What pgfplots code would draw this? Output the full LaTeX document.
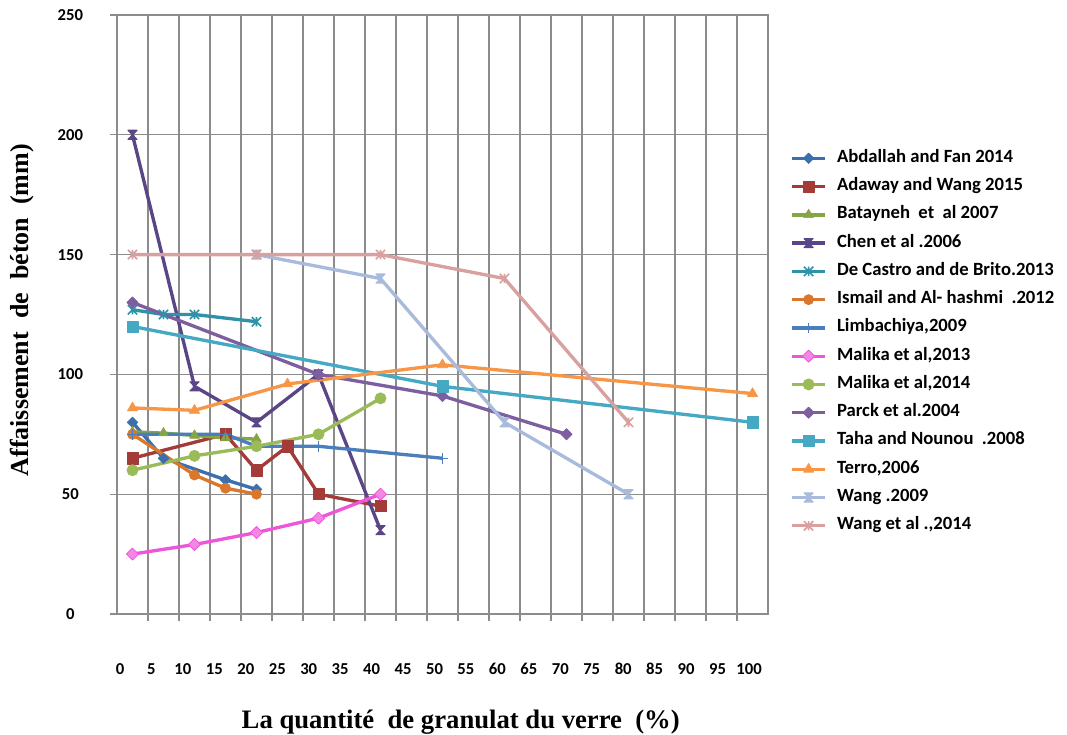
\documentclass[border=0pt]{standalone}
\usepackage{pgfplots}
\pgfplotsset{compat=1.18}
\usepackage{fontspec}
\setmainfont{Carlito}
\newfontfamily\labelserif{Liberation Serif}

% Excel-like markers
\pgfdeclareplotmark{hourglass}{%
  \pgfpathmoveto{\pgfqpoint{-\pgfplotmarksize}{\pgfplotmarksize}}%
  \pgfpathlineto{\pgfqpoint{\pgfplotmarksize}{\pgfplotmarksize}}%
  \pgfpathlineto{\pgfqpoint{-\pgfplotmarksize}{-\pgfplotmarksize}}%
  \pgfpathlineto{\pgfqpoint{\pgfplotmarksize}{-\pgfplotmarksize}}%
  \pgfpathclose
  \pgfusepathqfillstroke}
\pgfdeclareplotmark{xstar}{%
  \pgfpathmoveto{\pgfqpoint{-\pgfplotmarksize}{-\pgfplotmarksize}}%
  \pgfpathlineto{\pgfqpoint{\pgfplotmarksize}{\pgfplotmarksize}}%
  \pgfpathmoveto{\pgfqpoint{-\pgfplotmarksize}{\pgfplotmarksize}}%
  \pgfpathlineto{\pgfqpoint{\pgfplotmarksize}{-\pgfplotmarksize}}%
  \pgfpathmoveto{\pgfqpoint{0pt}{-\pgfplotmarksize}}%
  \pgfpathlineto{\pgfqpoint{0pt}{\pgfplotmarksize}}%
  \pgfusepathqstroke}

\definecolor{cAbd}{HTML}{3D6FAD}
\definecolor{cAda}{HTML}{A33B38}
\definecolor{cBat}{HTML}{86A544}
\definecolor{cChe}{HTML}{5A4586}
\definecolor{cDeC}{HTML}{3092A8}
\definecolor{cIsm}{HTML}{D9772C}
\definecolor{cLim}{HTML}{4A7EBD}
\definecolor{cMa13}{HTML}{EE55D9}
\definecolor{cMa14}{HTML}{9BBB59}
\definecolor{cPar}{HTML}{7D5FA0}
\definecolor{cTah}{HTML}{45A9C3}
\definecolor{cTer}{HTML}{F79646}
\definecolor{cWa09}{HTML}{A9BBDD}
\definecolor{cWa14}{HTML}{D8A1A0}
\definecolor{gridgray}{HTML}{8C8C8C}

\begin{document}
\begin{tikzpicture}
\useasboundingbox (-87.75pt,-90.75pt) rectangle (712.5pt,460.5pt);
\begin{axis}[
  scale only axis,
  width=488.25pt, height=449.25pt,
  xmin=-2.5, xmax=102.5, ymin=0, ymax=250,
  axis line style={gridgray, line width=0.9pt},
  tick pos=left,
  tick align=outside,
  ytick={0,50,100,150,200,250},
  ymajorgrids,
  major grid style={gridgray, line width=0.9pt},
  minor grid style={gridgray, line width=0.9pt},
  minor xtick={2.5,7.5,...,97.5},
  xminorgrids,
  minor tick length=5pt,
  major tick length=5pt,
  every major x tick/.append style={draw=none},
  every tick/.append style={gridgray, line width=0.9pt},
  xtick={-2.02,3.06,8.13,13.2,18.27,23.35,28.42,33.49,38.56,43.64,48.71,53.78,58.86,63.93,69.0,74.07,79.15,84.22,89.29,94.36,99.44},
  xticklabels={0,5,10,15,20,25,30,35,40,45,50,55,60,65,70,75,80,85,90,95,100},
  xticklabel style={anchor=center, yshift=-36pt, font=\bfseries\fontsize{12.5}{14}\selectfont},
  yticklabel style={anchor=center, xshift=-30pt, font=\bfseries\fontsize{12.5}{14}\selectfont},
  /pgf/number format/assume math mode=true,
  xlabel={La quantité\ \ de granulat du verre\ \ (\%)},
  ylabel={Affaissement\ \ de\ \ béton\ \ (mm)},
  xlabel style={at={(axis description cs:0.528,-0.18)}, anchor=center, font=\labelserif\bfseries\fontsize{20}{22}\selectfont},
  ylabel style={at={(axis description cs:-0.146,0.507)}, anchor=center, font=\labelserif\bfseries\fontsize{19.5}{21}\selectfont},
  every axis plot/.append style={line width=2.5pt, line join=round},
  legend style={at={(axis description cs:1.034,0.779)}, anchor=north west,
    draw=none, fill=none, inner sep=0pt, row sep=5.2pt,
    font=\bfseries\fontsize{14}{16}\selectfont,
    nodes={text height=9pt, text depth=3pt, inner sep=2pt},
    cells={anchor=west}},
  legend image code/.code={%
    \draw[mark repeat=2, mark phase=2, #1]
      plot coordinates {(0pt,0pt) (12.4pt,0pt) (24.75pt,0pt)};
    \path (30.5pt,0pt);},
]
% Abdallah and Fan 2014
\addplot[cAbd, mark=square*, mark size=2.8pt, mark options={solid, rotate=45, line width=0.5pt}]
  coordinates {(0,80) (5,65) (15,56) (20,52)};
\addlegendentry{Abdallah and Fan 2014}
% Adaway and Wang 2015
\addplot[cAda, mark=square*, mark size=4.2pt, mark options={solid, line width=0.5pt}]
  coordinates {(0,65) (15,75) (20,60) (25,70) (30,50) (40,45)};
\addlegendentry{Adaway and Wang 2015}
% Batayneh et al 2007
\addplot[cBat, mark=triangle*, mark size=4.2pt, mark options={solid, line width=0.5pt}]
  coordinates {(0,76) (5,75.5) (10,74.5) (15,73.5) (20,73)};
\addlegendentry{Batayneh\ \ et\ \ al 2007}
% Chen et al 2006
\addplot[cChe, mark=hourglass, mark size=3.4pt, mark options={solid, line width=0.8pt}]
  coordinates {(0,200) (10,95) (20,80) (30,100) (40,35)};
\addlegendentry{Chen et al .2006}
% De Castro and de Brito 2013
\addplot[cDeC, mark=xstar, mark size=3.5pt, mark options={solid, line width=1.2pt}]
  coordinates {(0,127) (5,125) (10,125) (20,122)};
\addlegendentry{De Castro and de Brito.2013}
% Ismail and Al-hashmi 2012
\addplot[cIsm, mark=*, mark size=3.8pt, mark options={solid, line width=0.5pt}]
  coordinates {(0,75) (10,58) (15,52.5) (20,50)};
\addlegendentry{Ismail and Al- hashmi\ \ .2012}
% Limbachiya 2009
\addplot[cLim, mark=+, mark size=4pt, mark options={solid, line width=1pt}]
  coordinates {(0,75) (15,75) (20,70) (30,70) (50,65)};
\addlegendentry{Limbachiya,2009}
% Malika et al 2013
\addplot[cMa13, mark=square*, mark size=3.2pt, mark options={solid, rotate=45, line width=0.6pt, fill=cMa13!70!white}]
  coordinates {(0,25) (10,29) (20,34) (30,40) (40,50)};
\addlegendentry{Malika et al,2013}
% Malika et al 2014
\addplot[cMa14, mark=*, mark size=4.2pt, mark options={solid, line width=0.5pt}]
  coordinates {(0,60) (10,66) (20,70) (30,75) (40,90)};
\addlegendentry{Malika et al,2014}
% Parck et al 2004
\addplot[cPar, mark=square*, mark size=3pt, mark options={solid, rotate=45, line width=0.5pt}]
  coordinates {(0,130) (30,100) (50,91) (70,75)};
\addlegendentry{Parck et al.2004}
% Taha and Nounou 2008
\addplot[cTah, mark=square*, mark size=4.2pt, mark options={solid, line width=0.5pt}]
  coordinates {(0,120) (50,95) (100,80)};
\addlegendentry{Taha and Nounou\ \ .2008}
% Terro 2006
\addplot[cTer, mark=triangle*, mark size=4.4pt, mark options={solid, line width=0.5pt}]
  coordinates {(0,86) (10,85) (25,96) (50,104) (100,92)};
\addlegendentry{Terro,2006}
% Wang 2009
\addplot[cWa09, mark=hourglass, mark size=3.4pt, mark options={solid, line width=0.8pt}]
  coordinates {(20,150) (40,140) (60,80) (80,50)};
\addlegendentry{Wang .2009}
% Wang et al 2014
\addplot[cWa14, mark=xstar, mark size=3.5pt, mark options={solid, line width=1.2pt}]
  coordinates {(0,150) (20,150) (40,150) (60,140) (80,80)};
\addlegendentry{Wang et al .,2014}
\end{axis}
\end{tikzpicture}
\end{document}
